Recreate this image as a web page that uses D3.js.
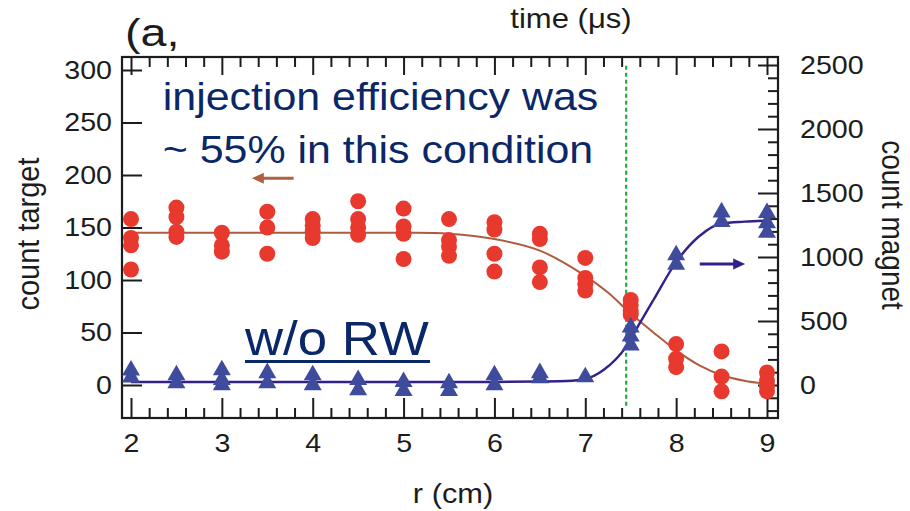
<!DOCTYPE html>
<html><head><meta charset="utf-8">
<script src="https://cdn.jsdelivr.net/npm/d3@7"></script>
<style>body{margin:0;background:#fff}svg{display:block}text{font-family:"Liberation Sans",Arial,sans-serif}</style>
</head><body><svg id="c" width="910" height="511"></svg>
<script>
// ---- data ----
const targetR = [2,2,2,2, 2.5,2.5,2.5,2.5, 3,3,3, 3.5,3.5,3.5, 4,4,4,4, 4.5,4.5,4.5,4.5, 5,5,5,5, 5.5,5.5,5.5,5.5, 6,6,6,6, 6.5,6.5,6.5,6.5, 7,7,7,7, 7.5,7.5,7.5,7.5, 8,8,8, 8.5,8.5,8.5, 9,9,9,9];
const targetCount = [158,140,133,110, 169,160,146,141, 145,133,127, 165,150,125, 158,152,146,140, 175,158,150,143, 168,151,144,120, 158,138,132,123, 155,148,125,108, 144,139,112,98, 121,102,96,90, 81,76,71,67, 39,25,17, 32,8,-6, 12,4,-1,-6];
const magnetR = [2,2, 2.5,2.5, 3,3,3, 3.5,3.5, 4,4, 4.5,4.5, 5,5, 5.5,5.5, 6,6, 6.5,6.5, 7, 7.5,7.5,7.5, 8,8, 8.5,8.5, 9,9,9];
const magnetCount = [115,60, 78,15, 117,40,0, 94,15, 78,0, 40,-40, 25,-45, 15,-45, 78,0, 94,55, 62, 450,380,310, 1015,940, 1350,1275, 1345,1265,1190];
const targetFitR = [2,3,4,5,5.5,6,6.5,7,7.25,7.5,7.75,8,8.25,8.5,8.75,9];
const targetFitV = [145,145,145,145,144,139,128,104,88,68,50,33,19,9.5,4,1];
const magnetFitR = [2,3,4,5,6,6.5,6.8,7,7.2,7.45,7.6,7.75,8,8.25,8.5,8.75,9];
const magnetFitV = [23,23,23,23,24,27,31,47,117,300,484,664,960,1160,1262,1276,1284];
const rTicks = [2,3,4,5,6,7,8,9];
const targetTicks = [0,50,100,150,200,250,300];
const magnetTicks = [0,500,1000,1500,2000,2500];
const markerR = 7.45;

const svg = d3.select("#c");
const x = d3.scaleLinear().domain([2,9]).range([131,767]);
const yL = d3.scaleLinear().domain([0,300]).range([385,70]);
const yR = d3.scaleLinear().domain([0,2500]).range([385,65]);
const L=122, R=778, T=57, B=418;
const ink="#1c1c1c", navy="#0a2768";
const SX=1.1;

const rMinor = d3.range(2,9.001,0.2).map(v=>+v.toFixed(1)).filter(v=>Math.abs(v-Math.round(v))>1e-6);
const magMinor = d3.range(-200,2501,100).filter(v=>v%500!==0);

function styleAxis(g, fs){
  g.select(".domain").remove();
  g.selectAll(".tick line").attr("stroke",ink).attr("stroke-width",2);
  g.selectAll(".tick text").attr("fill",ink).style("font-size",fs+"px")
   .attr("transform",`scale(${SX},1)`);
}
const gb = svg.append("g").attr("transform",`translate(0,${B})`)
  .call(d3.axisBottom(x).tickValues(rTicks).tickSize(-20).tickPadding(16).tickFormat(d3.format("d")));
styleAxis(gb,26);
gb.selectAll(".tick text").attr("x",0);
const gbm = svg.append("g").attr("transform",`translate(0,${B})`)
  .call(d3.axisBottom(x).tickValues(rMinor).tickSize(-10).tickFormat(""));
styleAxis(gbm,26);
const gt = svg.append("g").attr("transform",`translate(0,${T})`)
  .call(d3.axisTop(x).tickValues(rTicks).tickSize(-18).tickFormat(""));
styleAxis(gt,26);
const gtm = svg.append("g").attr("transform",`translate(0,${T})`)
  .call(d3.axisTop(x).tickValues(rMinor).tickSize(-10).tickFormat(""));
styleAxis(gtm,26);
const gl = svg.append("g").attr("transform",`translate(${L},0)`)
  .call(d3.axisLeft(yL).tickValues(targetTicks).tickSize(-20).tickPadding(10).tickFormat(d3.format("d")));
styleAxis(gl,26);
gl.selectAll(".tick text").attr("x",-10/SX);
const gr = svg.append("g").attr("transform",`translate(${R},0)`)
  .call(d3.axisRight(yR).tickValues(magnetTicks).tickSize(-20).tickPadding(22).tickFormat(d3.format("d")));
styleAxis(gr,26);
gr.selectAll(".tick text").attr("x",22/SX);
const grm = svg.append("g").attr("transform",`translate(${R},0)`)
  .call(d3.axisRight(yR).tickValues(magMinor).tickSize(-10).tickFormat(""));
styleAxis(grm,26);

svg.append("rect").attr("x",L).attr("y",T).attr("width",R-L).attr("height",B-T)
  .attr("fill","none").attr("stroke",ink).attr("stroke-width",2.2);

svg.append("line").attr("x1",x(markerR)).attr("x2",x(markerR))
  .attr("y1",yL(304)).attr("y2",yL(-21))
  .attr("stroke","#1fae3c").attr("stroke-width",2.2).attr("stroke-dasharray","4,3");

const lineT = d3.line().x((d,i)=>x(targetFitR[i])).y(d=>yL(d)).curve(d3.curveCatmullRom);
svg.append("path").attr("d",lineT(targetFitV)).attr("fill","none").attr("stroke","#ad5d3d").attr("stroke-width",2);
const lineM = d3.line().x((d,i)=>x(magnetFitR[i])).y(d=>yR(d)).curve(d3.curveMonotoneX);
svg.append("path").attr("d",lineM(magnetFitV)).attr("fill","none").attr("stroke","#33208a").attr("stroke-width",2.4);

svg.append("g").selectAll("circle").data(targetCount).join("circle")
  .attr("cx",(d,i)=>x(targetR[i])).attr("cy",d=>yL(d)).attr("r",8).attr("fill","#e8392f");
const tri = d3.symbol().type(d3.symbolTriangle).size(140);
svg.append("g").selectAll("path").data(magnetCount).join("path")
  .attr("d",tri).attr("transform",(d,i)=>`translate(${x(magnetR[i])},${yR(d)})`).attr("fill","#3f4b9c");

function arrow(x1,x2,y,color){
  const dir = Math.sign(x2-x1);
  svg.append("line").attr("x1",x1).attr("x2",x2-dir*9).attr("y1",y).attr("y2",y)
    .attr("stroke",color).attr("stroke-width",3);
  svg.append("path").attr("d",`M${x2},${y}L${x2-dir*12},${y-5.5}L${x2-dir*12},${y+5.5}Z`).attr("fill",color);
}
arrow(x(3.79),x(3.33),yL(197),"#b0603e");
arrow(x(8.26),x(8.76),yR(945),"#33208a");

function stext(px,py,str,fs,fill,anchor,sx){
  return svg.append("text").attr("transform",`translate(${px},${py}) scale(${sx||SX},1)`)
    .style("font-size",fs+"px").attr("fill",fill).attr("text-anchor",anchor||"start").text(str);
}
stext(x(2.35),110,"injection efficiency was",39,navy);
stext(x(2.35),163,"~ 55% in this condition",39,navy);
stext(245,355,"w/o RW",48,navy);
svg.append("line").attr("x1",245).attr("x2",430).attr("y1",361.5).attr("y2",361.5).attr("stroke",navy).attr("stroke-width",3);
stext(453,503,"r (cm)",28,ink,"middle");
stext(571,28,"time (\u03bcs)",27,ink,"middle",1.15);
stext(125,46,"(a,",39,ink,"start",1.2);
svg.append("text").attr("transform",`translate(39,234) rotate(-90) scale(1,${SX})`)
  .style("font-size","29px").attr("fill",ink).attr("text-anchor","middle").text("count target");
svg.append("text").attr("transform",`translate(882,225) rotate(90) scale(1,${SX})`)
  .style("font-size","28px").attr("fill",ink).attr("text-anchor","middle").text("count magnet");
</script></body></html>
